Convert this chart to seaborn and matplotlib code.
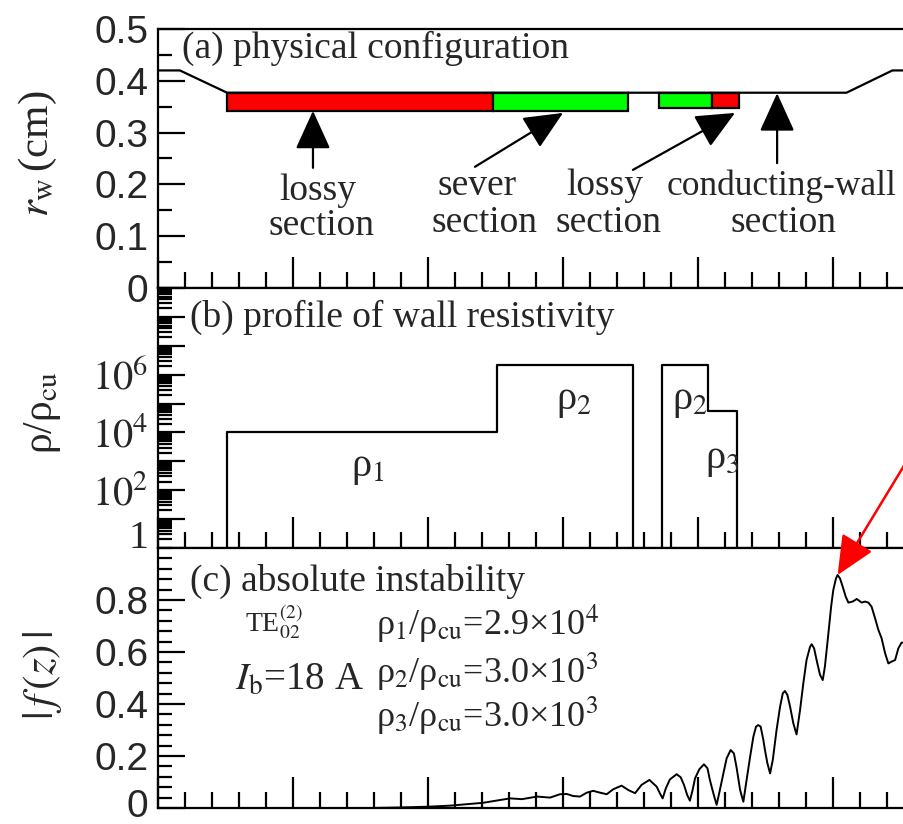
import matplotlib
matplotlib.use("Agg")
import matplotlib.pyplot as plt
import seaborn as sns
import pandas as pd
from matplotlib.ticker import MultipleLocator, FixedLocator, FixedFormatter, LogLocator, NullFormatter
from matplotlib.transforms import ScaledTranslation

# ---- (a) wall radius r_w(z) in cm ----
wall_z = [0.0, 0.81, 2.56, 25.5, 27.2, 30.0]
wall_r = [0.42, 0.42, 0.377, 0.377, 0.42, 0.42]

# coated sections on the wall: lossy, sever, sever, lossy
section_start = [2.56, 12.4, 18.55, 20.5]
section_end = [12.4, 17.4, 20.5, 21.5]
section_inner = [0.342, 0.342, 0.348, 0.348]
section_outer = [0.377, 0.377, 0.377, 0.377]
section_color = ["#ff0000", "#00ff00", "#00ff00", "#ff0000"]

# ---- (b) wall resistivity steps ----
rho_edges_1 = [2.56, 12.55, 17.58]
rho_levels_1 = [1.0e4, 2.2e6]
rho_edges_2 = [18.67, 20.36, 21.44]
rho_levels_2 = [2.2e6, 5.7e4]

# ---- (c) field profile |f(z)| ----
z_f = [0.0, 7.85, 8.96, 10.0, 10.81, 12.04, 13.04, 13.48, 14.04, 14.52, 14.89,
       15.14, 15.38, 15.63, 15.88, 16.12, 16.37, 16.62, 16.86, 17.17, 17.42,
       17.67, 17.91, 18.20, 18.47, 18.59, 18.69, 18.81, 18.96, 19.21, 19.36,
       19.48, 19.60, 19.70, 19.80, 19.89, 20.05, 20.22, 20.35, 20.44, 20.57,
       20.69, 20.81, 20.94, 21.06, 21.21, 21.33, 21.43, 21.56, 21.68, 21.80,
       21.93, 22.05, 22.15, 22.23, 22.32, 22.42, 22.48, 22.57, 22.67, 22.77,
       22.91, 23.04, 23.14, 23.22, 23.31, 23.41, 23.53, 23.65, 23.78, 23.90,
       24.02, 24.15, 24.21, 24.30, 24.42, 24.52, 24.62, 24.70, 24.83, 24.93,
       25.01, 25.11, 25.17, 25.26, 25.36, 25.47, 25.57, 25.73, 25.88, 26.06,
       26.19, 26.31, 26.43, 26.56, 26.68, 26.80, 26.93, 27.05, 27.17, 27.30,
       27.42, 27.54, 27.63, 27.75]
f_abs = [0.0, 0.0, 0.002, 0.005, 0.009, 0.020, 0.037, 0.034, 0.044, 0.040, 0.053,
         0.054, 0.046, 0.044, 0.059, 0.066, 0.059, 0.053, 0.072, 0.086, 0.069,
         0.057, 0.089, 0.108, 0.082, 0.056, 0.037, 0.076, 0.110, 0.130, 0.118,
         0.089, 0.050, 0.028, 0.069, 0.114, 0.149, 0.168, 0.153, 0.108, 0.056,
         0.012, 0.069, 0.133, 0.191, 0.223, 0.210, 0.155, 0.069, 0.024, 0.108,
         0.197, 0.274, 0.313, 0.319, 0.313, 0.262, 0.223, 0.172, 0.133, 0.185,
         0.300, 0.390, 0.441, 0.450, 0.435, 0.390, 0.326, 0.283, 0.377, 0.479,
         0.569, 0.620, 0.630, 0.614, 0.556, 0.512, 0.492, 0.544, 0.672, 0.774,
         0.838, 0.883, 0.896, 0.883, 0.851, 0.813, 0.790, 0.794, 0.804, 0.790,
         0.794, 0.790, 0.774, 0.729, 0.685, 0.653, 0.595, 0.556, 0.563, 0.569,
         0.614, 0.636, 0.636, 0.630]
peak_z, peak_f = 25.17, 0.896

sns.set_style("ticks")
plt.rcParams["font.family"] = ["Liberation Serif", "DejaVu Serif"]
plt.rcParams["mathtext.fontset"] = "stix"

W_PX, H_PX = 904, 824
fig = plt.figure(figsize=(W_PX / 100, H_PX / 100), dpi=100)
left, width = 158 / W_PX, 810 / W_PX


def box(top_px, bottom_px):
    return [left, (H_PX - bottom_px) / H_PX, width, (bottom_px - top_px) / H_PX]


ax1 = fig.add_axes(box(29, 288))
ax2 = fig.add_axes(box(288, 548), sharex=ax1)
ax3 = fig.add_axes(box(548, 808), sharex=ax1)

tick_font = dict(family="Liberation Sans", size=28)
TXT = 27
LW = 1.6

for ax in (ax1, ax2, ax3):
    for sp in ax.spines.values():
        sp.set_visible(True)
        sp.set_linewidth(LW)
        sp.set_color("black")
    ax.set_xlim(0, 30)
    ax.xaxis.set_major_locator(MultipleLocator(5))
    ax.xaxis.set_minor_locator(MultipleLocator(1))
    ax.tick_params(axis="x", which="both", direction="in", bottom=True, top=False,
                   labelbottom=False, width=LW, color="black")
    ax.tick_params(axis="x", which="major", length=22)
    ax.tick_params(axis="x", which="minor", length=11.5)
    ax.tick_params(axis="y", which="both", direction="in", left=True, right=False,
                   width=LW, color="black", pad=7)
    ax.tick_params(axis="y", which="major", length=19.5)
    ax.tick_params(axis="y", which="minor", length=10)

# ---------------- (a) physical configuration ----------------
sns.lineplot(x=wall_z, y=wall_r, ax=ax1, color="black", lw=LW, sort=False,
             estimator=None, zorder=2)
ax1.bar(section_start,
        [o - i for o, i in zip(section_outer, section_inner)],
        width=[e - s for s, e in zip(section_start, section_end)],
        bottom=section_inner, align="edge", color=section_color,
        edgecolor="black", linewidth=LW, zorder=3)
ax1.set_ylim(0, 0.5)
ax1.set_yticks([0, 0.1, 0.2, 0.3, 0.4, 0.5])
ax1.yaxis.set_minor_locator(MultipleLocator(0.05))
ax1.set_yticklabels(["0", "0.1", "0.2", "0.3", "0.4", "0.5"], fontdict=tick_font)
ax1.set_ylabel(r"$r_{\rm w}\,$(cm)", fontsize=31, va="center")
ax1.yaxis.set_label_coords(-0.148, 0.52)
ax1.text(0.89, 0.444, "(a) physical configuration", fontsize=TXT, va="baseline")

arrow_kw = dict(arrowstyle="-|>,head_length=1.1,head_width=0.5", color="black",
                lw=LW, mutation_scale=22, shrinkA=0, shrinkB=0)
ax1.annotate("", xy=(5.74, 0.342), xytext=(5.74, 0.232), arrowprops=arrow_kw)
ax1.annotate("", xy=(15.0, 0.338), xytext=(11.74, 0.234), arrowprops=arrow_kw)
ax1.annotate("", xy=(21.37, 0.338), xytext=(17.59, 0.228), arrowprops=arrow_kw)
ax1.annotate("", xy=(22.93, 0.376), xytext=(22.93, 0.241), arrowprops=arrow_kw)

ax1.text(5.93, 0.170, "lossy", fontsize=TXT, ha="center", va="baseline")
ax1.text(6.07, 0.102, "section", fontsize=TXT, ha="center", va="baseline")
ax1.text(11.82, 0.180, "sever", fontsize=TXT, ha="center", va="baseline")
ax1.text(12.11, 0.108, "section", fontsize=TXT, ha="center", va="baseline")
ax1.text(16.56, 0.180, "lossy", fontsize=TXT, ha="center", va="baseline")
ax1.text(16.70, 0.108, "section", fontsize=TXT, ha="center", va="baseline")
ax1.text(23.10, 0.180, "conducting-wall", fontsize=25.5, ha="center", va="baseline")
ax1.text(23.15, 0.108, "section", fontsize=TXT, ha="center", va="baseline")

# ---------------- (b) profile of wall resistivity ----------------
floor = 1.0


def step_outline(edges, levels):
    xs = [edges[0], edges[0]]
    ys = [floor, levels[0]]
    for k, lev in enumerate(levels):
        xs += [edges[k + 1]]
        ys += [lev]
        nxt = levels[k + 1] if k + 1 < len(levels) else floor
        xs += [edges[k + 1]]
        ys += [nxt]
    return pd.DataFrame({"z": xs, "rho": ys})


for edges, levels in ((rho_edges_1, rho_levels_1), (rho_edges_2, rho_levels_2)):
    df = step_outline(edges, levels)
    sns.lineplot(data=df, x="z", y="rho", ax=ax2, color="black", lw=LW,
                 sort=False, estimator=None)
ax2.set_yscale("log")
ax2.set_ylim(1, 1e9)
ax2.yaxis.set_major_locator(FixedLocator([10.0 ** k for k in range(10)]))
ax2.yaxis.set_major_formatter(FixedFormatter(
    ["1", "", r"$10^{2}$", "", r"$10^{4}$", "", r"$10^{6}$", "", "", ""]))
ax2.yaxis.set_minor_locator(LogLocator(base=10, subs=range(2, 10), numticks=20))
ax2.yaxis.set_minor_formatter(NullFormatter())
for lbl in ax2.get_yticklabels():
    lbl.set_fontsize(29)
ax2.yaxis.get_major_ticks()[0].label1.set_verticalalignment("baseline")
ax2.set_ylabel(r"ρ/ρ$_{\rm cu}$", fontsize=30, va="center")
ax2.yaxis.set_label_coords(-0.143, 0.52)
ax2.text(1.19, 0.851, "(b) profile of wall resistivity", fontsize=TXT,
         va="baseline", transform=ax2.get_xaxis_transform())
bt = ax2.get_xaxis_transform()
ax2.text(7.78, 0.304, r"ρ$_1$", fontsize=29, ha="center", va="center", transform=bt)
ax2.text(15.4, 0.565, r"ρ$_2$", fontsize=29, ha="center", va="center", transform=bt)
ax2.text(19.7, 0.565, r"ρ$_2$", fontsize=29, ha="center", va="center", transform=bt)
ax2.text(20.9, 0.335, r"ρ$_3$", fontsize=29, ha="center", va="center", transform=bt)

# ---------------- (c) absolute instability ----------------
sns.lineplot(x=z_f, y=f_abs, ax=ax3, color="black", lw=1.4, sort=False,
             estimator=None)
ax3.set_ylim(0, 1)
ax3.yaxis.set_major_locator(FixedLocator([0, 0.2, 0.4, 0.6, 0.8]))
ax3.yaxis.set_minor_locator(MultipleLocator(0.04))
ax3.set_yticklabels(["0", "0.2", "0.4", "0.6", "0.8"], fontdict=tick_font)
zero_lbl = ax3.yaxis.get_major_ticks()[0].label1
zero_lbl.set_transform(zero_lbl.get_transform()
                       + ScaledTranslation(0, 0.05, fig.dpi_scale_trans))
ax3.set_ylabel(r"$|\,f\,(z)\,|$", fontsize=31, va="center")
ax3.yaxis.set_label_coords(-0.143, 0.51)
ax3.text(1.19, 0.835, "(c) absolute instability", fontsize=TXT, va="baseline")
ax3.text(3.22, 0.677, r"TE$_{02}^{(2)}$", fontsize=20, va="baseline")
ax3.text(2.85, 0.454, r"$I_{\rm b}$=18 A", fontsize=28, va="baseline")
ax3.text(8.07, 0.665, r"ρ$_1$/ρ$_{\rm cu}$=2.9×10$^4$", fontsize=26, va="baseline")
ax3.text(8.07, 0.480, r"ρ$_2$/ρ$_{\rm cu}$=3.0×10$^3$", fontsize=26, va="baseline")
ax3.text(8.07, 0.310, r"ρ$_3$/ρ$_{\rm cu}$=3.0×10$^3$", fontsize=26, va="baseline")
ax3.annotate("", xy=(peak_z, peak_f), xytext=(28.96, 1.544),
             annotation_clip=False,
             arrowprops=dict(arrowstyle="-|>,head_length=1.1,head_width=0.5",
                             color="#ff0000", lw=1.8, mutation_scale=22,
                             shrinkA=0, shrinkB=0))

for ax in (ax1, ax2, ax3):
    ax.set_xlabel("")

fig.savefig("out.png", dpi=100)
